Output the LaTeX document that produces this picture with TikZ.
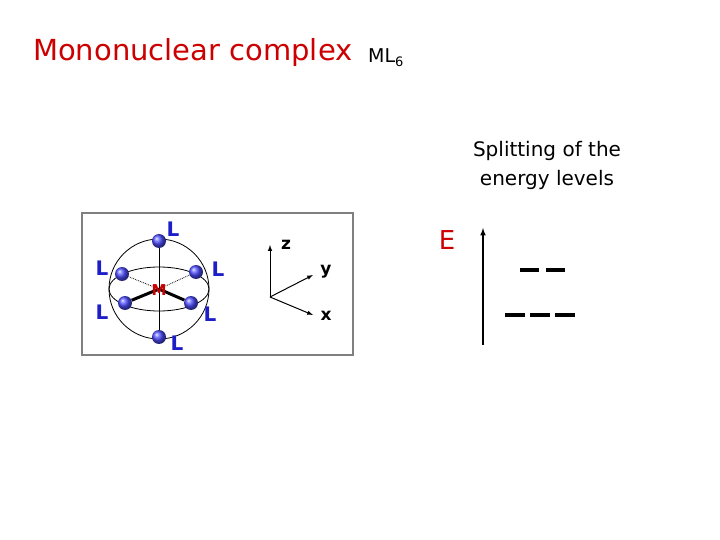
\documentclass[tikz,border=0pt]{standalone}
\usepackage{fontspec}
\setmainfont{DejaVu Sans}
\definecolor{tred}{RGB}{204,0,0}
\definecolor{lblue}{RGB}{30,30,200}
\begin{document}
\begin{tikzpicture}[x=1pt,y=-1pt,
  lab/.style={text=lblue,font=\fontsize{20}{20}\selectfont\bfseries,inner sep=0},
  ball/.style={circle,inner sep=0,minimum size=14pt,ball color=blue!70,draw=none},
  ax/.style={-latex,line width=1pt}]
\useasboundingbox (0,0) rectangle (720,540);
\node[anchor=west,text=tred,font=\fontsize{29}{29}\selectfont,inner sep=0] (title) at (33,53) {Mononuclear complex};
\node[anchor=west,font=\fontsize{19}{19}\selectfont,inner sep=0] (ml) at (368,58) {ML\raisebox{-0.2em}{\fontsize{13}{13}\selectfont 6}};
\node[align=center,font=\fontsize{20}{29}\selectfont] (split) at (547,165) {Splitting of the\\ energy levels};
\node[text=tred,font=\fontsize{26}{26}\selectfont] (E) at (447,240) {E};
\coordinate (eb) at (483,345); \coordinate (et) at (483,228);
\draw[-latex,line width=1.5pt] (eb) -- (et);
\coordinate (d1a) at (520,270); \coordinate (d1b) at (565,270);
\coordinate (d2a) at (505,315); \coordinate (d2b) at (575,315);
\draw[line width=4pt,dash pattern=on 19pt off 7pt] (d1a) -- (d1b);
\draw[line width=4pt,dash pattern=on 20pt off 5pt] (d2a) -- (d2b);
% picture box
\draw[gray,line width=1.5pt] (82,213) rectangle (353,355);
\coordinate (c) at (159,289);
\draw[line width=0.8pt] (c) circle (50);
\draw[line width=0.8pt] (c) ellipse (50 and 22);
\node[ball] (bt) at (159,241) {};
\node[ball] (bb) at (159,337) {};
\node[ball] (bul) at (122,274) {};
\node[ball] (bur) at (196,272) {};
\node[ball] (bll) at (125,303) {};
\node[ball] (blr) at (191,303) {};
\draw[line width=0.8pt] (bt) -- (bb);
\draw[densely dotted,thick] (c) -- (bul);
\draw[densely dotted,thick] (c) -- (bur);
\draw[line width=3pt] (c) -- (bll);
\draw[line width=3pt] (c) -- (blr);
\node[text=tred,font=\fontsize{15}{15}\selectfont\bfseries,inner sep=0] (M) at (159,290) {M};
\node[lab] at (173,229) {L};
\node[lab] at (102,268) {L};
\node[lab] at (218,269) {L};
\node[lab] at (102,312) {L};
\node[lab] at (210,314) {L};
\node[lab] at (177,343) {L};
\coordinate (o) at (270,297);
\coordinate (z) at (270,245); \coordinate (y) at (313,275); \coordinate (xx) at (313,315);
\draw[ax] (o) -- (z); \draw[ax] (o) -- (y); \draw[ax] (o) -- (xx);
\node[font=\fontsize{17}{17}\selectfont\bfseries] at (286,245) {z};
\node[font=\fontsize{17}{17}\selectfont\bfseries] at (326,272) {y};
\node[font=\fontsize{17}{17}\selectfont\bfseries] at (326,316) {x};
\end{tikzpicture}
\end{document}
